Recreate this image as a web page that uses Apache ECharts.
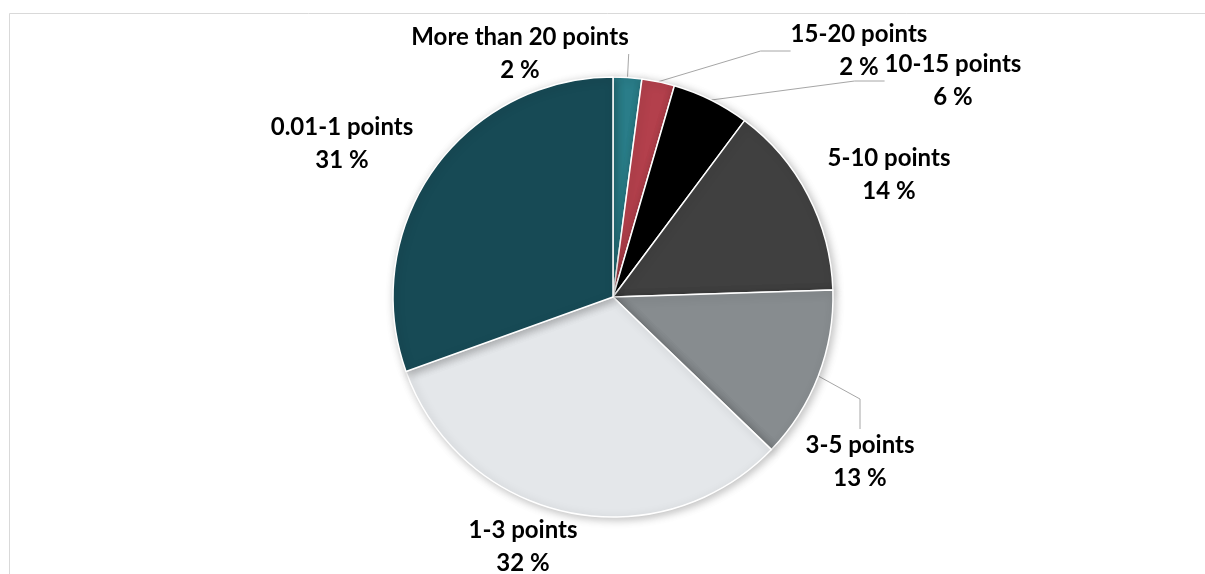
<!DOCTYPE html>
<html>
<head>
<meta charset="utf-8">
<script src="https://cdn.jsdelivr.net/npm/echarts@6/dist/echarts.min.js"></script>
<style>html,body{margin:0;padding:0;background:#fff}#c{width:1205px;height:574px}</style>
</head>
<body>
<div id="c"></div>
<script>
const categories = ['More than 20 points','15-20 points','10-15 points','5-10 points','3-5 points','1-3 points','0.01-1 points'];
const values = [2.1, 2.4, 5.7, 14.3, 12.7, 32.3, 30.5];
const colors = ['#2a7d89','#b3404c','#000000','#404040','#878c8f','#e4e7ea','#174a55'];
const showLine = [true, true, true, false, true, false, false];
// label block centres (layout only)
const labelPos = [[520,54],[859,51],[953,81],[889,175],[860,462],[523,547],[342,144]];

const chart = echarts.init(document.getElementById('c'));
chart.setOption({
  animation: false,
  backgroundColor: '#fff',
  graphic: [{type:'rect', shape:{x:9.5,y:13.5,width:1400,height:800}, style:{fill:'none',stroke:'#d9d9d9',lineWidth:1}, silent:true}],
  series: [{
    type: 'pie',
    center: [613, 297],
    radius: [0, 220],
    startAngle: 90,
    clockwise: true,
    percentPrecision: 0,
    avoidLabelOverlap: false,
    itemStyle: {borderColor:'#fff', borderWidth:1.5, shadowBlur:8, shadowOffsetX:2, shadowOffsetY:2, shadowColor:'rgba(0,0,0,0.25)'},
    label: {
      show: true, position: 'outside',
      formatter: '{b}\n{d} %',
      color: '#000', fontFamily: 'Lato', fontWeight: 'bold', fontSize: 24, lineHeight: 33, align:'center'
    },
    labelLine: {show: true, lineStyle: {color:'#a6a6a6', width:1}, smooth:false},
    labelLayout: function(p){
      const q = labelPos[p.dataIndex];
      return {x:q[0], y:q[1], align:'center', verticalAlign:'middle'};
    },
    data: categories.map((n,i)=>({name:n, value:values[i], itemStyle:{color:colors[i]}, labelLine:{show:showLine[i]}}))
  }]
});
</script>
</body>
</html>
